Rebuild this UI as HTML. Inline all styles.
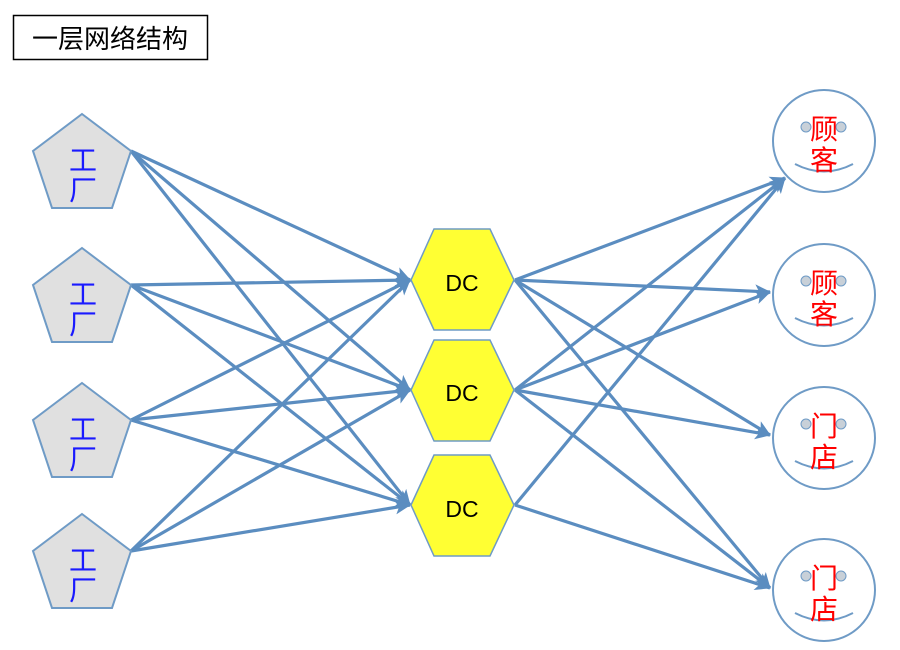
<!DOCTYPE html>
<html><head><meta charset="utf-8"><style>
body{margin:0;background:#fff;width:900px;height:650px;overflow:hidden}
svg{display:block}
text{font-family:"Liberation Sans","Noto Sans CJK SC",sans-serif}
.s{font-family:"Liberation Serif","Noto Serif CJK SC",serif}
</style></head><body>
<svg width="900" height="650" viewBox="0 0 900 650" xmlns="http://www.w3.org/2000/svg">
<defs>
<marker id="b" markerWidth="16" markerHeight="14" refX="15" refY="7" orient="auto" markerUnits="userSpaceOnUse" viewBox="0 0 16 14">
<path d="M0,0 L16,7 L0,14 L4,7 z" fill="#5b8dc0"/>
</marker>
</defs>
<rect x="13.5" y="15.5" width="194" height="44" fill="#fff" stroke="#000" stroke-width="1.5"/>
<text x="110" y="48" font-size="26" text-anchor="middle">一层网络结构</text>
<g stroke="#5b8dc0" stroke-width="3.2" fill="none" marker-end="url(#b)">
<line x1="131" y1="151" x2="410" y2="280"/>
<line x1="131" y1="151" x2="410" y2="390"/>
<line x1="131" y1="151" x2="410" y2="505"/>
<line x1="131" y1="285" x2="410" y2="280"/>
<line x1="131" y1="285" x2="410" y2="390"/>
<line x1="131" y1="285" x2="410" y2="505"/>
<line x1="131" y1="420" x2="410" y2="280"/>
<line x1="131" y1="420" x2="410" y2="390"/>
<line x1="131" y1="420" x2="410" y2="505"/>
<line x1="131" y1="551" x2="410" y2="280"/>
<line x1="131" y1="551" x2="410" y2="390"/>
<line x1="131" y1="551" x2="410" y2="505"/>
<line x1="515" y1="280" x2="785" y2="178"/>
<line x1="515" y1="280" x2="770" y2="292"/>
<line x1="515" y1="280" x2="770" y2="435"/>
<line x1="515" y1="280" x2="770" y2="588"/>
<line x1="515" y1="390" x2="785" y2="178"/>
<line x1="515" y1="390" x2="770" y2="292"/>
<line x1="515" y1="390" x2="770" y2="435"/>
<line x1="515" y1="390" x2="770" y2="588"/>
<line x1="515" y1="505" x2="785" y2="178"/>
<line x1="515" y1="505" x2="770" y2="588"/>
</g>
<g fill="#e0e0e0" stroke="#6f9bc6" stroke-width="2">
<polygon points="82,114 131,151 112,208 52,208 33,151"/>
<polygon points="82,248 131,285 112,342 52,342 33,285"/>
<polygon points="82,383 131,420 112,477 52,477 33,420"/>
<polygon points="82,514 131,551 112,608 52,608 33,551"/>
</g>
<g class="s" fill="#1a1aff" font-size="28" text-anchor="middle">
<text x="83" y="170">工</text><text x="83" y="200">厂</text>
<text x="83" y="304">工</text><text x="83" y="334">厂</text>
<text x="83" y="439">工</text><text x="83" y="469">厂</text>
<text x="83" y="570">工</text><text x="83" y="600">厂</text>
</g>
<g fill="#ffff33" stroke="#6f9bc6" stroke-width="1.5">
<polygon points="411,280 434,229 490,229 514,280 490,330 434,330"/>
<polygon points="411,390 434,340 490,340 514,390 490,441 434,441"/>
<polygon points="411,505 434,455 490,455 514,505 490,556 434,556"/>
</g>
<g font-size="23" text-anchor="middle" fill="#000">
<text x="462" y="291">DC</text><text x="462" y="401">DC</text><text x="462" y="517">DC</text>
</g>
<g>
<g transform="translate(824,141)"><circle r="51" fill="#fff" stroke="#6f9bc6" stroke-width="2"/><circle cx="-18" cy="-14" r="5" fill="#c8d0d8" stroke="#6f9bc6"/><circle cx="17" cy="-14" r="5" fill="#c8d0d8" stroke="#6f9bc6"/><path d="M-29,23 Q0,38 29,23" fill="none" stroke="#6f9bc6" stroke-width="2"/></g>
<g transform="translate(824,295)"><circle r="51" fill="#fff" stroke="#6f9bc6" stroke-width="2"/><circle cx="-18" cy="-14" r="5" fill="#c8d0d8" stroke="#6f9bc6"/><circle cx="17" cy="-14" r="5" fill="#c8d0d8" stroke="#6f9bc6"/><path d="M-29,23 Q0,38 29,23" fill="none" stroke="#6f9bc6" stroke-width="2"/></g>
<g transform="translate(824,438)"><circle r="51" fill="#fff" stroke="#6f9bc6" stroke-width="2"/><circle cx="-18" cy="-14" r="5" fill="#c8d0d8" stroke="#6f9bc6"/><circle cx="17" cy="-14" r="5" fill="#c8d0d8" stroke="#6f9bc6"/><path d="M-29,23 Q0,38 29,23" fill="none" stroke="#6f9bc6" stroke-width="2"/></g>
<g transform="translate(824,590)"><circle r="51" fill="#fff" stroke="#6f9bc6" stroke-width="2"/><circle cx="-18" cy="-14" r="5" fill="#c8d0d8" stroke="#6f9bc6"/><circle cx="17" cy="-14" r="5" fill="#c8d0d8" stroke="#6f9bc6"/><path d="M-29,23 Q0,38 29,23" fill="none" stroke="#6f9bc6" stroke-width="2"/></g>
</g>
<g class="s" fill="#ff0000" font-size="28" text-anchor="middle">
<text x="824" y="139">顾</text><text x="824" y="170">客</text>
<text x="824" y="293">顾</text><text x="824" y="324">客</text>
<text x="824" y="436">门</text><text x="824" y="467">店</text>
<text x="824" y="588">门</text><text x="824" y="619">店</text>
</g>
</svg>
</body></html>
